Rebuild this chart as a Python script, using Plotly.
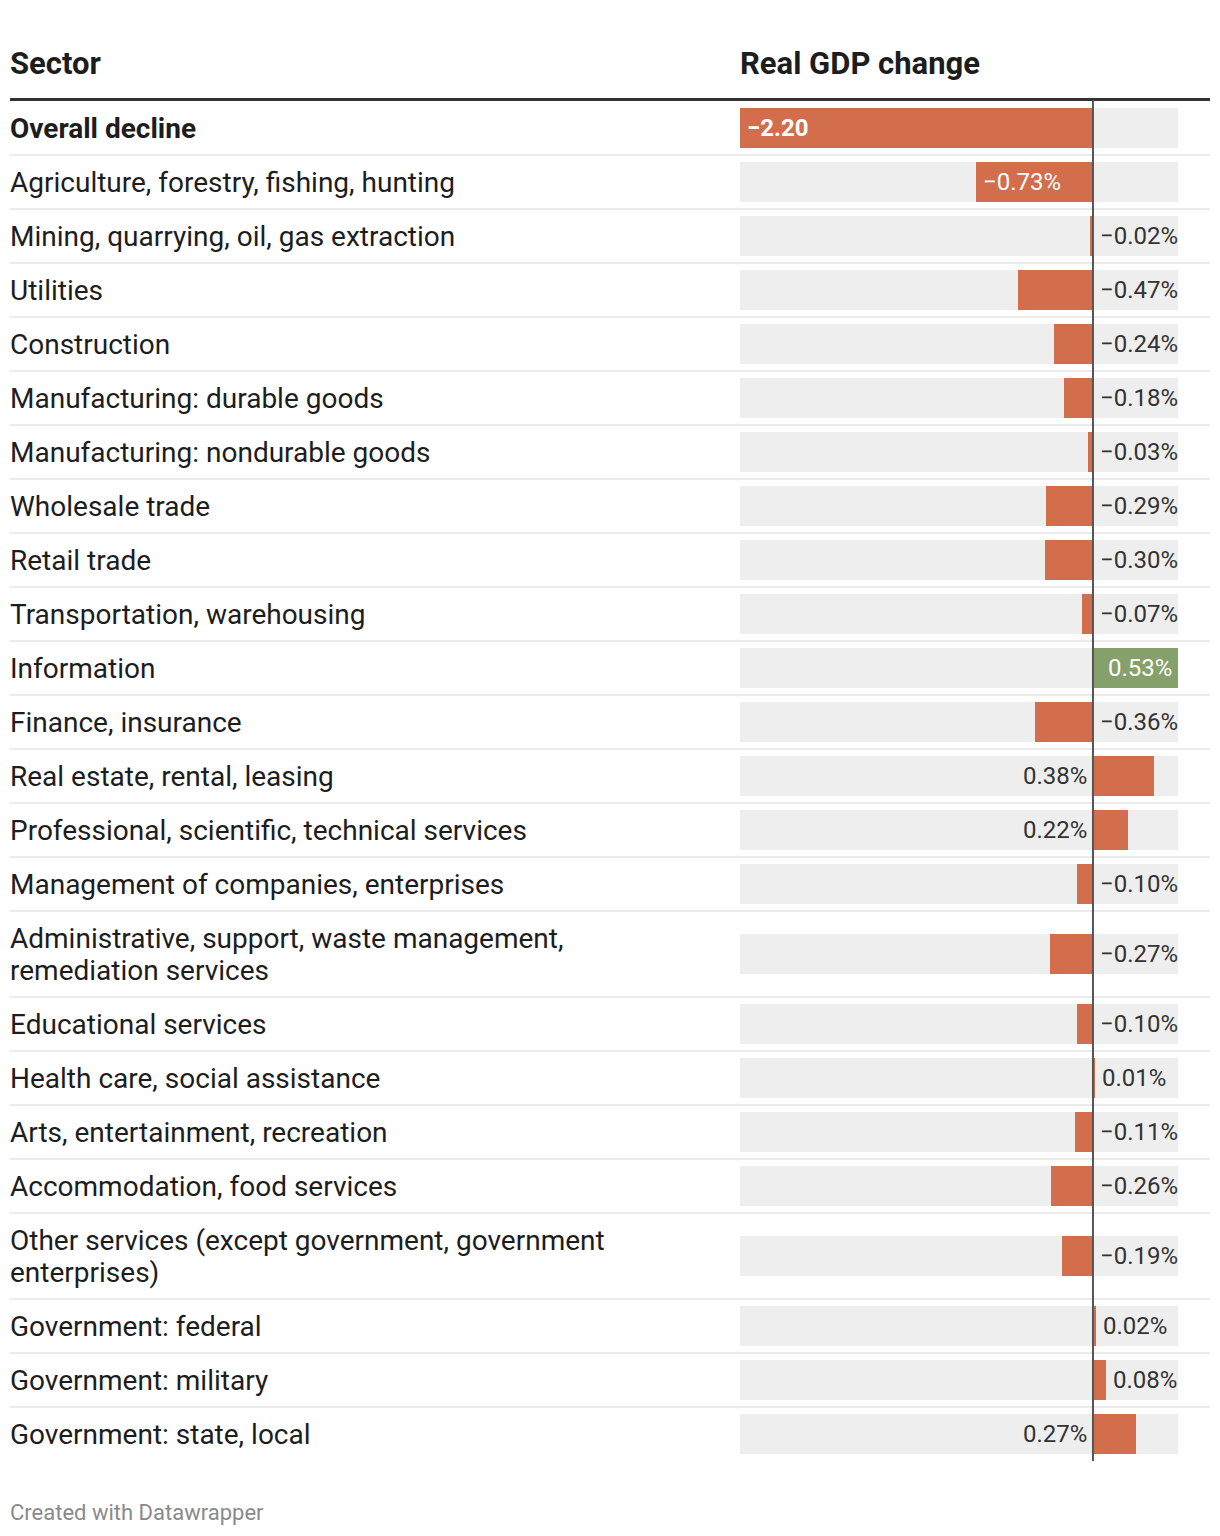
import plotly.graph_objects as go

# ---------------- data ----------------
sectors = [
    "Overall decline",
    "Agriculture, forestry, fishing, hunting",
    "Mining, quarrying, oil, gas extraction",
    "Utilities",
    "Construction",
    "Manufacturing: durable goods",
    "Manufacturing: nondurable goods",
    "Wholesale trade",
    "Retail trade",
    "Transportation, warehousing",
    "Information",
    "Finance, insurance",
    "Real estate, rental, leasing",
    "Professional, scientific, technical services",
    "Management of companies, enterprises",
    "Administrative, support, waste management,<br>remediation services",
    "Educational services",
    "Health care, social assistance",
    "Arts, entertainment, recreation",
    "Accommodation, food services",
    "Other services (except government, government<br>enterprises)",
    "Government: federal",
    "Government: military",
    "Government: state, local",
]
values = [-2.20, -0.73, -0.02, -0.47, -0.24, -0.18, -0.03, -0.29, -0.30, -0.07,
          0.53, -0.36, 0.38, 0.22, -0.10, -0.27, -0.10, 0.01, -0.11, -0.26,
          -0.19, 0.02, 0.08, 0.27]
highlight = ["Information"]  # rendered in green

col_headers = ["Sector", "Real GDP change"]
footer = "Created with Datawrapper"

# ---------------- styling ----------------
PAGE_OFF = 8                     # browser body margin
W, H = 1220 - PAGE_OFF, 1536 - PAGE_OFF
FONT = "Roboto"
ORANGE = "#d36e4d"
GREEN = "#85a06a"
BG = "#eeeeee"
TEXT = "#1d1d1d"
XMIN, XMAX = min(values), max(values)


def px(p):
    """page pixel -> figure pixel"""
    return p - PAGE_OFF


BAR_L, BAR_R = px(740), px(1178)
LEFT, RIGHT = px(10), px(1210)
TABLE_TOP = px(101)
ROW_H1, ROW_H2 = 54, 86
BAR_H = 40
LINE_GAP = 32

# row geometry (figure pixels, from top)
centers, bottoms = [], []
top = TABLE_TOP
for s in sectors:
    h = ROW_H2 if "<br>" in s else ROW_H1
    centers.append(top + h / 2)
    top += h
    bottoms.append(top)
table_bottom = bottoms[-1]

colors = [GREEN if s in highlight else ORANGE for s in sectors]

fig = go.Figure()

# gray background bars
fig.add_trace(go.Bar(
    y=centers, x=[XMAX - XMIN] * len(values), base=[XMIN] * len(values),
    orientation="h", width=BAR_H, marker=dict(color=BG, line=dict(width=0)),
    hoverinfo="skip", showlegend=False))

# value bars
fig.add_trace(go.Bar(
    y=centers, x=values, base=[0] * len(values), orientation="h", width=BAR_H,
    marker=dict(color=colors, line=dict(width=0)),
    hoverinfo="skip", showlegend=False))

ppu = (BAR_R - BAR_L) / (XMAX - XMIN)
NEG_LAB_PX = 84   # approx width of "−0.00%" label incl. padding
POS_LAB_PX = 71   # approx width of "0.00%" label incl. padding


def fmt(v, pct=True):
    s = f"{abs(v):.2f}" + ("%" if pct else "")
    return ("\u2212" + s) if v < 0 else s


annotations = []
shapes = []
NOPAD = dict(borderpad=0, borderwidth=0, showarrow=False)

# header
for txt, xpx in zip(col_headers, [LEFT, BAR_L]):
    annotations.append(dict(
        text=f"<b>{txt}</b>", xref="paper", yref="y", x=xpx / W, y=px(63),
        xanchor="left", yanchor="middle",
        font=dict(family=FONT, size=31, color=TEXT), **NOPAD))

# row labels and value labels
for i, (s, v, c) in enumerate(zip(sectors, values, centers)):
    lines = s.split("<br>")
    n = len(lines)
    for k, ln in enumerate(lines):
        yy = c + (k - (n - 1) / 2) * LINE_GAP
        label = f"<b>{ln}</b>" if i == 0 else ln
        annotations.append(dict(
            text=label, xref="paper", yref="y", x=LEFT / W, y=yy,
            xanchor="left", yanchor="middle", align="left",
            font=dict(family=FONT, size=28, color=TEXT), **NOPAD))

    first = i == 0
    txt = fmt(v, pct=not first)
    if first:
        txt = f"<b>{txt}</b>"
    bar_px = abs(v) * ppu
    if v < 0:
        if bar_px >= NEG_LAB_PX:
            a = dict(x=v, xshift=7, xanchor="left", color="white")
        else:
            a = dict(x=0, xshift=7, xanchor="left", color="#333333")
    else:
        if (XMAX - v) * ppu >= POS_LAB_PX:
            a = dict(x=v, xshift=7, xanchor="left", color="#333333")
        elif bar_px >= POS_LAB_PX:
            a = dict(x=v, xshift=-6, xanchor="right", color="white")
        else:
            a = dict(x=0, xshift=-6, xanchor="right", color="#333333")
    annotations.append(dict(
        text=txt, xref="x", yref="y", x=a["x"], xshift=a["xshift"], y=c,
        xanchor=a["xanchor"], yanchor="middle",
        font=dict(family=FONT, size=24, color=a["color"]), **NOPAD))

# separators
for b in bottoms[:-1]:
    shapes.append(dict(type="line", xref="paper", yref="y", x0=LEFT / W, x1=RIGHT / W,
                       y0=b, y1=b, line=dict(color="#ebebeb", width=2), layer="above"))
# header rule
shapes.append(dict(type="line", xref="paper", yref="y", x0=LEFT / W, x1=RIGHT / W,
                   y0=TABLE_TOP - 1.5, y1=TABLE_TOP - 1.5,
                   line=dict(color="#333333", width=3)))
# zero line
shapes.append(dict(type="line", xref="x", yref="y", x0=0, x1=0,
                   y0=TABLE_TOP - 1, y1=table_bottom, line=dict(color="#555555", width=2),
                   layer="above"))

# footer
annotations.append(dict(
    text=footer, xref="paper", yref="y", x=LEFT / W, y=px(1512),
    xanchor="left", yanchor="middle",
    font=dict(family=FONT, size=22, color="#8a8a8a"), **NOPAD))

fig.update_layout(
    width=W, height=H, margin=dict(l=0, r=0, t=0, b=0),
    paper_bgcolor="white", plot_bgcolor="white",
    barmode="overlay", bargap=0,
    xaxis=dict(domain=[BAR_L / W, BAR_R / W], range=[XMIN, XMAX], visible=False,
               fixedrange=True),
    yaxis=dict(domain=[0, 1], range=[H, 0], visible=False, fixedrange=True),
    annotations=annotations, shapes=shapes, showlegend=False,
)

fig.write_html("out.html")
